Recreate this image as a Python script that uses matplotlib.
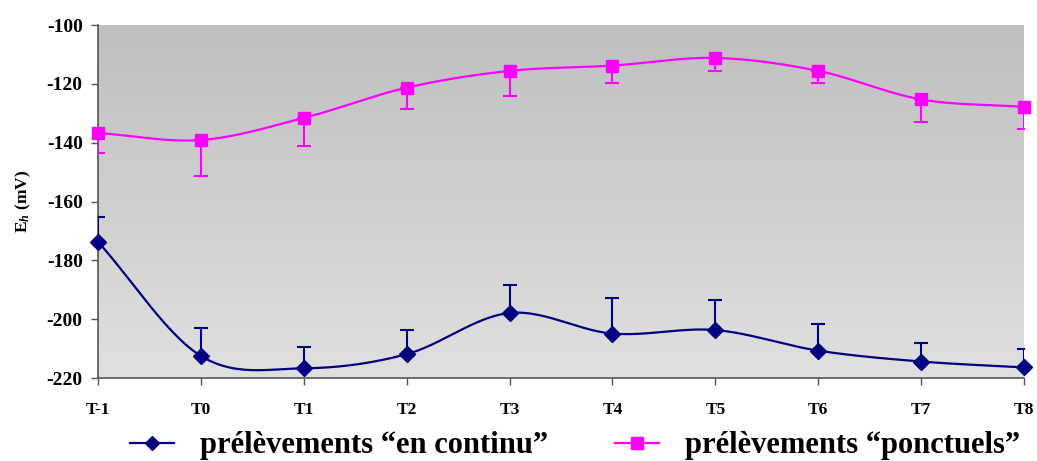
import numpy as np
import matplotlib
matplotlib.use("Agg")
import matplotlib.pyplot as plt
from matplotlib.lines import Line2D

plt.rcParams['font.family'] = ['Liberation Serif', 'DejaVu Serif']
plt.rcParams['font.weight'] = 'bold'
plt.rcParams['mathtext.fontset'] = 'custom'
plt.rcParams['mathtext.rm'] = 'Liberation Serif:bold'
plt.rcParams['mathtext.bf'] = 'Liberation Serif:bold'
plt.rcParams['mathtext.it'] = 'Liberation Serif:italic:bold'

# Sampling times
categories = ["T-1", "T0", "T1", "T2", "T3", "T4", "T5", "T6", "T7", "T8"]

# Continuous sampling (mean Eh, mV) and upper error
continu = [-173.7, -212.5, -216.7, -211.9, -197.9, -204.9, -203.7, -210.7, -214.4, -216.4]
continu_err = [8.5, 9.5, 7.2, 8.3, 9.5, 12.0, 10.2, 9.0, 6.3, 6.3]

# Spot sampling (mean Eh, mV) and lower error
ponctuels = [-136.7, -139.1, -131.6, -121.3, -115.6, -113.8, -111.2, -115.6, -125.3, -127.8]
ponctuels_err = [6.8, 12.3, 9.6, 7.2, 8.4, 5.8, 4.6, 4.0, 7.6, 7.6]

yticks = [-220, -200, -180, -160, -140, -120, -100]

NAVY = "#000080"
MAGENTA = "#FF00FF"


def smooth(x, y, n=30):
    """Catmull-Rom spline through the points (spreadsheet-style smoothed line)."""
    x = np.asarray(x, float)
    y = np.asarray(y, float)
    px = np.concatenate([[2 * x[0] - x[1]], x, [2 * x[-1] - x[-2]]])
    py = np.concatenate([[2 * y[0] - y[1]], y, [2 * y[-1] - y[-2]]])
    xs, ys = [], []
    t = np.linspace(0, 1, n)
    for i in range(1, len(px) - 2):
        for arr, out in ((px, xs), (py, ys)):
            p0, p1, p2, p3 = arr[i - 1], arr[i], arr[i + 1], arr[i + 2]
            seg = 0.5 * ((2 * p1) + (-p0 + p2) * t
                         + (2 * p0 - 5 * p1 + 4 * p2 - p3) * t ** 2
                         + (-p0 + 3 * p1 - 3 * p2 + p3) * t ** 3)
            out.extend(seg)
    return np.array(xs), np.array(ys)


fig = plt.figure(figsize=(10.37, 4.61), dpi=100)
ax = fig.add_axes([98 / 1037, 1 - 378 / 461, (1024 - 98) / 1037, (378 - 25) / 461])

# gradient background: darker grey at the top, lighter at the bottom
grad = np.linspace(0, 1, 256).reshape(-1, 1)
top = np.array([191, 191, 191]) / 255
bot = np.array([224, 224, 224]) / 255
img = top + (bot - top) * grad[:, :, None] * np.ones((1, 1, 3))
ax.imshow(img.reshape(256, 1, 3), extent=[0, 1, 0, 1], transform=ax.transAxes,
          aspect="auto", zorder=0, origin="upper")

x = np.arange(len(categories))

# spot sampling series
sx, sy = smooth(x, ponctuels)
ax.plot(sx, sy, color=MAGENTA, lw=1.6, zorder=3, solid_capstyle="round")
ax.errorbar(x, ponctuels, yerr=[ponctuels_err, np.zeros(len(x))], fmt="none",
            ecolor=MAGENTA, elinewidth=1.5, capsize=5, capthick=1.5, zorder=3)
ax.plot(x, ponctuels, ls="none", marker="s", ms=9, color=MAGENTA, zorder=4,
        clip_on=False)

# continuous sampling series
cx, cy = smooth(x, continu)
ax.plot(cx, cy, color=NAVY, lw=1.6, zorder=3)
ax.errorbar(x, continu, yerr=[np.zeros(len(x)), continu_err], fmt="none",
            ecolor=NAVY, elinewidth=1.5, capsize=5, capthick=1.5, zorder=3)
ax.plot(x, continu, ls="none", marker="D", ms=8, color=NAVY, zorder=4,
        clip_on=False)

ax.set_xlim(0, len(categories) - 1)
ax.set_ylim(-220, -100)
ax.set_xticks(x)
ax.set_xticklabels(categories, fontsize=12.5, fontweight="bold")
ax.set_yticks(yticks)
ax.set_yticklabels([str(v) for v in yticks], fontsize=14, fontweight="bold")
ax.tick_params(axis="both", direction="out", length=5, width=1, color="#555555")
ax.tick_params(axis="x", pad=12)
ax.tick_params(axis="y", pad=6)

for side in ("top", "right"):
    ax.spines[side].set_visible(False)
for side in ("left", "bottom"):
    ax.spines[side].set_color("#555555")
    ax.spines[side].set_linewidth(1.2)

ax.set_ylabel(r"E$_{h}$ (mV)", fontsize=12.5, fontweight="bold", labelpad=10)

handles = [
    Line2D([], [], color=NAVY, lw=1.6, marker="D", ms=7),
    Line2D([], [], color=MAGENTA, lw=1.6, marker="s", ms=8),
]
labels = ["prélèvements \u201cen continu\u201d", "prélèvements \u201cponctuels\u201d"]
fig.legend(handles, labels, loc="center", bbox_to_anchor=(0.5545, 0.033), ncol=2,
           frameon=False, prop={"size": 22, "weight": "bold"},
           handlelength=1.45, columnspacing=2.2, handletextpad=0.85,
           borderpad=0, borderaxespad=0)

fig.savefig("out.png", dpi=100)
